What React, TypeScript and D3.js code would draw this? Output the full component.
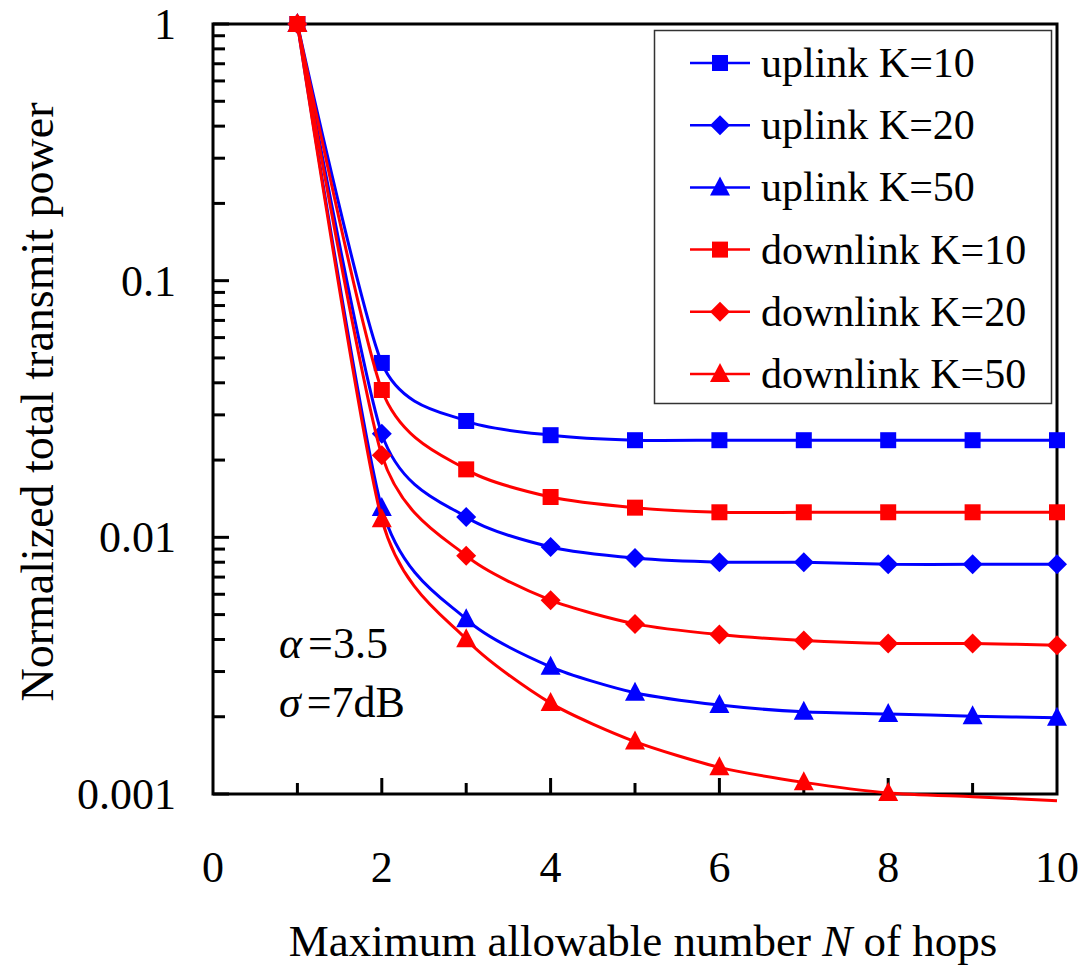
import React, { useEffect, useRef } from 'react';
import * as d3 from 'd3';

// hops on the x axis
const hops = [1, 2, 3, 4, 5, 6, 7, 8, 9, 10];

// values (normalized total transmit power)
const uplinkK10 = [1, 0.0478, 0.0284, 0.025, 0.0239, 0.0239, 0.0239, 0.0239, 0.0239, 0.0239];
const uplinkK20 = [1, 0.0253, 0.012, 0.00917, 0.0083, 0.008, 0.008, 0.00785, 0.00785, 0.00785];
const uplinkK50 = [1, 0.013, 0.0048, 0.00313, 0.00248, 0.00222, 0.00209, 0.00205, 0.00201, 0.00198];
const downlinkK10 = [1, 0.0375, 0.0184, 0.01436, 0.01305, 0.01252, 0.01252, 0.01252, 0.01252, 0.01252];
const downlinkK20 = [1, 0.0209, 0.00848, 0.00569, 0.0046, 0.00418, 0.00396, 0.00386, 0.00386, 0.0038];
const downlinkK50 = [1, 0.01175, 0.00401, 0.00226, 0.0016, 0.00127, 0.00111, 0.00101, 0.000976, 0.000942];

const seriesNames = ['uplink K=10', 'uplink K=20', 'uplink K=50', 'downlink K=10', 'downlink K=20', 'downlink K=50'];
const seriesValues = [uplinkK10, uplinkK20, uplinkK50, downlinkK10, downlinkK20, downlinkK50];
const drawOrder = [0, 1, 2, 5, 4, 3];

const xTicks = [0, 2, 4, 6, 8, 10];
const yTicks = [1, 0.1, 0.01, 0.001];
const yTickLabels = ['1', '0.1', '0.01', '0.001'];

const width = 1082;
const height = 969;
const margin = { top: 24, right: 25, bottom: 175, left: 213 };
const x = d3.scaleLinear().domain([0, 10]).range([margin.left, width - margin.right]);
const y = d3.scaleLog().domain([0.001, 1]).range([height - margin.bottom, margin.top]);

const fontStyle = { fontFamily: "'Liberation Serif'" };

const colorOf = (name: string) => (name.startsWith('uplink') ? '#0000ff' : '#ff0000');
const shapeOf = (name: string) =>
  name.endsWith('10') ? 'square' : name.endsWith('20') ? 'diamond' : 'triangle';

const drawMarker = (g: any, shape: string, cx: number, cy: number, color: string) => {
  if (shape === 'square') {
    g.append('rect').attr('x', cx - 8).attr('y', cy - 8).attr('width', 16).attr('height', 16).attr('fill', color);
  } else if (shape === 'diamond') {
    g.append('path')
      .attr('d', `M${cx},${cy - 10}L${cx + 10},${cy}L${cx},${cy + 10}L${cx - 10},${cy}Z`)
      .attr('fill', color);
  } else {
    g.append('path')
      .attr('d', `M${cx},${cy - 11}L${cx + 10},${cy + 8}L${cx - 10},${cy + 8}Z`)
      .attr('fill', color);
  }
};

const App = () => {
  const ref = useRef<SVGGElement | null>(null);

  useEffect(() => {
    const root = d3.select(ref.current);
    root.selectAll('*').remove();

    const x0 = margin.left;
    const x1 = width - margin.right;
    const y0 = margin.top;
    const y1 = height - margin.bottom;

    // minor log ticks on y
    const minorY: number[] = [];
    [0.001, 0.01, 0.1].forEach((base) => {
      for (let k = 2; k <= 9; k++) minorY.push(base * k);
    });

    const axes = root.append('g').attr('stroke', '#000').attr('stroke-width', 3);
    minorY.forEach((v) => {
      axes.append('line').attr('x1', x0).attr('x2', x0 + 12).attr('y1', y(v)).attr('y2', y(v));
    });
    yTicks.forEach((v) => {
      axes.append('line').attr('x1', x0).attr('x2', x0 + 16).attr('y1', y(v)).attr('y2', y(v));
    });
    d3.range(1, 10).forEach((v) => {
      const len = v % 2 === 0 ? 16 : 11;
      axes.append('line').attr('x1', x(v)).attr('x2', x(v)).attr('y1', y1).attr('y2', y1 - len);
    });
    axes.append('rect')
      .attr('x', x0).attr('y', y0).attr('width', x1 - x0).attr('height', y1 - y0)
      .attr('fill', 'none');

    // series
    const line = d3.line<number>()
      .x((_, i) => x(hops[i]))
      .y((d) => y(d))
      .curve(d3.curveCardinal.tension(0.3));

    drawOrder.forEach((si) => {
      const name = seriesNames[si];
      const vals = seriesValues[si];
      const color = colorOf(name);
      const g = root.append('g');
      g.append('path')
        .attr('d', line(vals))
        .attr('fill', 'none')
        .attr('stroke', color)
        .attr('stroke-width', 3);
      vals.forEach((v, i) => {
        if (v >= 0.001) drawMarker(g, shapeOf(name), x(hops[i]), y(v), color);
      });
    });

    // legend box and swatches
    const lg = root.append('g');
    lg.append('rect')
      .attr('x', 654.5).attr('y', 30.5).attr('width', 397).attr('height', 373)
      .attr('fill', '#fff').attr('stroke', '#333').attr('stroke-width', 1.5);
    seriesNames.forEach((name, i) => {
      const cy = 63 + i * 62.2;
      const color = colorOf(name);
      lg.append('line')
        .attr('x1', 690).attr('x2', 750).attr('y1', cy).attr('y2', cy)
        .attr('stroke', color).attr('stroke-width', 2.5);
      drawMarker(lg, shapeOf(name), 720, cy, color);
    });
  }, []);

  return (
    <svg
      width={width}
      height={height}
      style={{ position: 'absolute', left: 0, top: 0, background: '#fff' }}
    >
      <g ref={ref} />
      <g fontSize={44} fill="#000" style={fontStyle}>
        {yTicks.map((v, i) => (
          <text key={'y' + v} x={176} y={y(v) + 15} textAnchor="end" style={fontStyle}>
            {yTickLabels[i]}
          </text>
        ))}
        {xTicks.map((v) => (
          <text key={'x' + v} x={x(v)} y={882} textAnchor="middle" style={fontStyle}>
            {String(v)}
          </text>
        ))}
        <text x={643} y={956} fontSize={45} textAnchor="middle" style={fontStyle}>
          Maximum allowable number <tspan fontStyle="italic">N</tspan> of hops
        </text>
        <text transform="translate(53,402) rotate(-90)" fontSize={46} textAnchor="middle" style={fontStyle}>
          Normalized total transmit power
        </text>
        <text x={279} y={658} style={fontStyle}>
          <tspan fontStyle="italic">α</tspan>
          <tspan dx={6}>=3.5</tspan>
        </text>
        <text x={279} y={717} style={fontStyle}>
          <tspan fontStyle="italic">σ</tspan>
          <tspan dx={6}>=7dB</tspan>
        </text>
        {seriesNames.map((name, i) => (
          <text key={name} x={761} y={63 + i * 62.2 + 14} fontSize={42} style={fontStyle}>
            {name}
          </text>
        ))}
      </g>
    </svg>
  );
};

export default App;
